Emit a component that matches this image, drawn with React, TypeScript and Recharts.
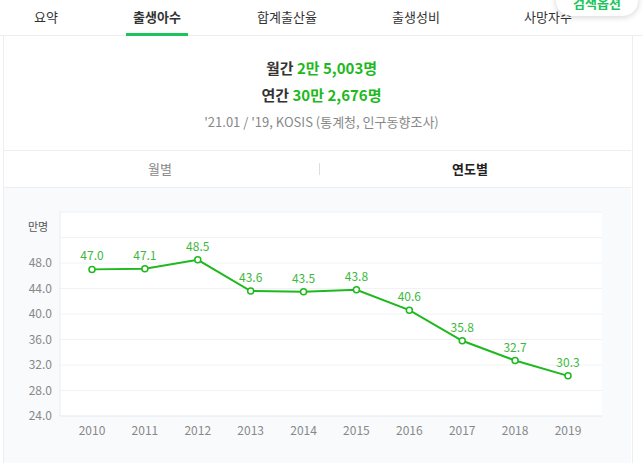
import { LineChart, Line, XAxis, YAxis, CartesianGrid, LabelList } from 'recharts';

const years = ['2010', '2011', '2012', '2013', '2014', '2015', '2016', '2017', '2018', '2019'];
const births = [47.0, 47.1, 48.5, 43.6, 43.5, 43.8, 40.6, 35.8, 32.7, 30.3];
const yTicks = [24, 28, 32, 36, 40, 44, 48, 52, 56];
const tabs = ['요약', '출생아수', '합계출산율', '출생성비', '사망자수'];
const tabCenters = [46, 157, 287, 416, 548];

const data = years.map((year, i) => ({ year, value: births[i] }));

const FONT = '"Noto Sans CJK KR", "Noto Sans", sans-serif';
const GREEN = '#1db91d';
const BORDER = '#eceef0';

export default function App() {
  return (
    <div
      style={{
        position: 'absolute',
        left: 0,
        top: 0,
        width: 643,
        height: 463,
        overflow: 'hidden',
        background: '#fff',
        fontFamily: FONT,
      }}
    >
      {/* tab bar */}
      <div style={{ position: 'absolute', left: 0, top: 0, width: 643, height: 35, borderBottom: `1px solid ${BORDER}` }} />
      {tabs.map((t, i) => (
        <div
          key={t}
          style={{
            position: 'absolute',
            left: tabCenters[i] - 50,
            width: 100,
            top: 7,
            textAlign: 'center',
            fontSize: 13,
            color: '#333',
            fontWeight: i === 1 ? 600 : 400,
          }}
        >
          {t}
        </div>
      ))}
      <div style={{ position: 'absolute', left: 126, top: 33, width: 62, height: 3, background: '#1cc45c' }} />
      <div
        style={{
          position: 'absolute',
          left: 556,
          top: -14,
          width: 82,
          height: 30,
          borderRadius: 15,
          background: '#fff',
          boxShadow: '0 1px 6px rgba(0,0,0,0.18)',
          textAlign: 'center',
          fontSize: 13,
          fontWeight: 700,
          color: '#1cc45c',
          lineHeight: '34px',
        }}
      >
        검색옵션
      </div>

      {/* panel */}
      <div
        style={{
          position: 'absolute',
          left: 3,
          top: 36,
          width: 628,
          height: 440,
          borderLeft: `1px solid ${BORDER}`,
          borderRight: `1px solid ${BORDER}`,
        }}
      />
      <div style={{ position: 'absolute', left: 0, width: 643, top: 57, textAlign: 'center', fontSize: 15, fontWeight: 700, color: '#333' }}>
        월간 <span style={{ color: GREEN }}>2만 5,003명</span>
      </div>
      <div style={{ position: 'absolute', left: 0, width: 643, top: 84, textAlign: 'center', fontSize: 15, fontWeight: 700, color: '#333' }}>
        연간 <span style={{ color: GREEN }}>30만 2,676명</span>
      </div>
      <div style={{ position: 'absolute', left: 0, width: 643, top: 112, textAlign: 'center', fontSize: 13, color: '#888' }}>
        '21.01 / '19, KOSIS (통계청, 인구동향조사)
      </div>

      {/* toggle */}
      <div
        style={{
          position: 'absolute',
          left: 4,
          top: 150,
          width: 627,
          height: 36,
          borderTop: `1px solid ${BORDER}`,
          borderBottom: `1px solid ${BORDER}`,
        }}
      />
      <div style={{ position: 'absolute', left: 110, width: 100, top: 159, textAlign: 'center', fontSize: 13, color: '#888' }}>월별</div>
      <div style={{ position: 'absolute', left: 319, top: 163, width: 1, height: 12, background: '#ddd' }} />
      <div style={{ position: 'absolute', left: 420, width: 100, top: 159, textAlign: 'center', fontSize: 13, fontWeight: 700, color: '#222' }}>연도별</div>

      {/* chart area */}
      <div style={{ position: 'absolute', left: 4, top: 188, width: 627, height: 280, background: '#f8fafc' }} />
      <div style={{ position: 'absolute', left: 28, top: 218, fontSize: 11, color: '#555' }}>만명</div>
      <div style={{ position: 'absolute', left: 0, top: 188 }}>
        <LineChart width={632} height={275} data={data} margin={{ top: 24, right: 30, left: 10, bottom: 17 }}>
          <CartesianGrid vertical={false} stroke="#f0f2f4" fill="#fff" />
          <XAxis
            dataKey="year"
            padding={{ left: 32, right: 34 }}
            tickLine={false}
            axisLine={{ stroke: '#e8eef4' }}
            tick={{ fill: '#888', fontSize: 12 }}
            tickMargin={4}
            height={30}
          />
          <YAxis
            domain={[24, 56]}
            ticks={yTicks}
            width={50}
            tickLine={false}
            axisLine={{ stroke: '#e8eef4' }}
            tick={{ fill: '#888', fontSize: 12 }}
            tickFormatter={(v: number) => (v > 48 ? '' : v.toFixed(1))}
          />
          <YAxis yAxisId="r" orientation="right" width={0} tick={false} tickLine={false} axisLine={{ stroke: '#e8eef4' }} />
          <Line
            type="linear"
            dataKey="value"
            stroke={GREEN}
            strokeWidth={2}
            dot={{ r: 3, fill: '#fff', stroke: GREEN, strokeWidth: 1.5 }}
            isAnimationActive={false}
          >
            <LabelList
              dataKey="value"
              position="top"
              offset={9}
              fill="#3cb83c"
              fontSize={12}
              formatter={(v: number) => v.toFixed(1)}
            />
          </Line>
        </LineChart>
      </div>
    </div>
  );
}
